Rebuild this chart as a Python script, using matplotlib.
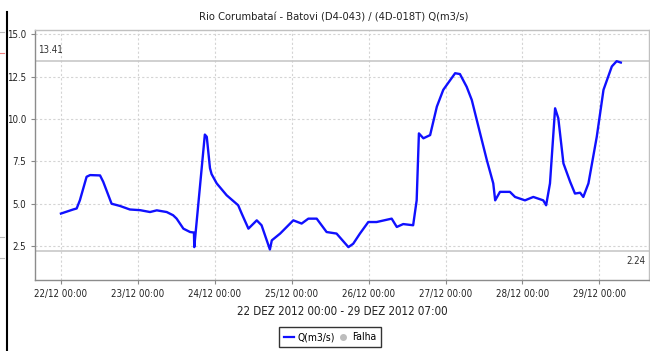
import matplotlib
matplotlib.use("Agg")
import matplotlib.pyplot as plt
from matplotlib.lines import Line2D
from matplotlib.ticker import FixedLocator, FuncFormatter

plt.rcParams['font.family'] = ['DejaVu Sans']
plt.rcParams['font.stretch'] = 'condensed'

# Discharge series: hours since 22/12/2012 00:00 and Q in m3/s
hours = [0.0, 3.8, 4.9, 5.9, 8.0, 9.1, 12.2, 13.2, 15.8, 18.4, 21.5, 24.7,
         27.8, 29.9, 33.0, 35.0, 36.1, 38.2, 40.3, 41.5, 41.6, 42.4, 44.9,
         45.5, 46.5, 47.0, 48.6, 51.7, 55.3, 56.4, 58.5, 61.1, 62.6, 65.2,
         65.8, 68.4, 72.5, 75.1, 77.2, 79.8, 82.9, 86.0, 89.7, 91.2, 93.3,
         95.9, 98.5, 103.2, 104.8, 106.8, 109.9, 111.0, 111.7, 113.1, 115.2,
         117.3, 119.3, 123.0, 124.5, 126.6, 128.2, 130.8, 132.9, 134.9, 135.5,
         137.0, 140.1, 141.7, 144.8, 147.4, 150.5, 151.4, 152.6, 154.2, 155.2,
         156.8, 158.9, 160.4, 162.0, 163.0, 164.6, 167.2, 169.3, 171.9, 173.4,
         174.7]
flow = [4.42, 4.66, 4.72, 5.2, 6.59, 6.69, 6.67, 6.29, 5.0, 4.87, 4.66, 4.62,
        4.51, 4.61, 4.51, 4.32, 4.12, 3.53, 3.33, 3.30, 2.44, 4.05, 9.08,
        8.95, 7.1, 6.75, 6.2, 5.5, 4.91, 4.42, 3.53, 4.02, 3.73, 2.3,
        2.84, 3.24, 4.02, 3.83, 4.12, 4.12, 3.33, 3.24, 2.44, 2.64, 3.24,
        3.92, 3.92, 4.12, 3.63, 3.8, 3.73, 5.2, 9.15, 8.86, 9.05,
        10.73, 11.72, 12.7, 12.65, 11.9, 11.12, 9.15, 7.57, 6.2, 5.2,
        5.7, 5.7, 5.4, 5.2, 5.4, 5.2, 4.91, 6.2, 10.63, 10.04,
        7.38, 6.29, 5.6, 5.65, 5.4, 6.2, 8.95, 11.72, 13.1, 13.41,
        13.33]

q_max = 13.41
q_min = 2.24
day_ticks = [0, 24, 48, 72, 96, 120, 144, 168]
day_labels = ["22/12 00:00", "23/12 00:00", "24/12 00:00", "25/12 00:00",
              "26/12 00:00", "27/12 00:00", "28/12 00:00", "29/12 00:00"]
y_ticks = [2.5, 5.0, 7.5, 10.0, 12.5, 15.0]

W, H = 650, 351
fig = plt.figure(figsize=(W / 100, H / 100), dpi=100)
ax = fig.add_axes([35 / W, (H - 280) / H, (649 - 35) / W, (280 - 30) / H])

ax.set_xlim(-8.1, 183.5)
ax.set_ylim(0.5, 15.25)

ax.grid(True, color='#d4d4d4', linestyle=(0, (2, 2)), linewidth=0.8)
ax.set_axisbelow(True)

ax.axhline(q_max, color='#c8c8c8', linewidth=1.2, zorder=1)
ax.axhline(q_min, color='#c8c8c8', linewidth=1.2, zorder=1)

ax.plot(hours, flow, color='#1010ff', linewidth=1.7, zorder=3)

ax.text(-7.3, q_max + 0.35, "13.41", fontsize=7, color='#333333',
        va='bottom', ha='left')
ax.text(182.5, q_min - 0.35, "2.24", fontsize=7, color='#333333',
        va='top', ha='right')

ax.xaxis.set_major_locator(FixedLocator(day_ticks))
ax.set_xticklabels(day_labels)
ax.yaxis.set_major_locator(FixedLocator(y_ticks))
ax.yaxis.set_major_formatter(FuncFormatter(lambda v, p: f"{v:.1f}"))
ax.tick_params(axis='both', labelsize=7, colors='#888888', labelcolor='#222222',
               length=3, width=0.8)

for side in ['left', 'bottom']:
    ax.spines[side].set_color('#8c8c8c')
    ax.spines[side].set_linewidth(1.0)
for side in ['top', 'right']:
    ax.spines[side].set_color('#c0c0c0')
    ax.spines[side].set_linewidth(1.0)

ax.set_title("Rio Corumbataí - Batovi (D4-043) / (4D-018T) Q(m3/s)",
             fontsize=8, color='#222222', pad=7, x=0.487)
ax.set_xlabel("22 DEZ 2012 00:00 - 29 DEZ 2012 07:00", fontsize=8.3,
              color='#222222', labelpad=4)

handles = [Line2D([], [], color='#1010ff', linewidth=1.6),
           Line2D([], [], color='#bdbdbd', marker='o', linestyle='none',
                  markersize=4)]
leg = fig.legend(handles, ["Q(m3/s)", "Falha"], loc='upper center',
                 bbox_to_anchor=(330 / W, 1 - 327 / H), ncol=2, fontsize=7.5,
                 frameon=True, fancybox=False, edgecolor='black',
                 handlelength=1.0, handletextpad=0.3, columnspacing=0.3,
                 borderpad=0.5, borderaxespad=0)
leg.get_frame().set_linewidth(1.0)

# separator on the left edge and fragments of the neighbouring panel
fig.add_artist(Line2D([7 / W, 7 / W], [0, 1 - 12 / H], color='black',
                      linewidth=1.5))
for yy, col in [(32, '#bbbbbb'), (53, '#f08080'), (237, '#bbbbbb'),
                (258, '#bbbbbb')]:
    fig.add_artist(Line2D([0, 4 / W], [1 - yy / H] * 2, color=col,
                          linewidth=0.8))

fig.savefig("out.png", dpi=100)
